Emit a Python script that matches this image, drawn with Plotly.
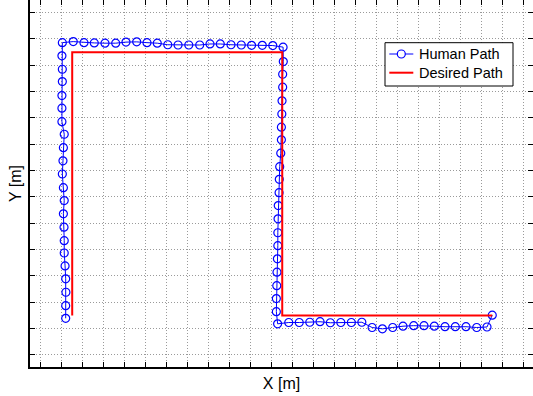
import plotly.graph_objects as go

# Human path (measured), in metres
human_x = [
    1.19, 1.19, 1.20, 1.19, 1.16, 1.12, 1.12, 1.11, 1.08, 1.12, 1.08,
    1.03, 1.06, 1.08, 1.12, 1.01, 1.01, 1.01, 1.03, 1.03, 1.01, 1.03,
    1.55, 2.06, 2.55, 3.06, 3.57, 4.06, 4.57, 5.06, 5.55, 6.05,
    6.54, 7.05, 7.57, 8.06, 8.55, 9.06, 9.55, 10.04, 10.55, 11.05, 11.54,
    11.55, 11.52, 11.52, 11.49, 11.48, 11.46, 11.46, 11.43, 11.38, 11.36,
    11.35, 11.31, 11.30, 11.29, 11.29, 11.27, 11.25, 11.24, 11.22, 11.22, 11.28,
    11.81, 12.31, 12.81, 13.30, 13.79, 14.29, 14.79, 15.29, 15.78, 16.27,
    16.76, 17.25, 17.76, 18.25, 18.74, 19.25, 19.74, 20.25, 20.76, 21.25, 21.50,
]
human_y = [
    1.39, 1.87, 2.38, 2.89, 3.38, 3.87, 4.34, 4.85, 5.36, 5.86, 6.35,
    6.87, 7.37, 7.87, 8.38, 8.86, 9.37, 9.85, 10.38, 10.85, 11.36, 11.86,
    11.90, 11.86, 11.85, 11.84, 11.84, 11.88, 11.89, 11.86, 11.84, 11.78,
    11.77, 11.77, 11.77, 11.81, 11.81, 11.78, 11.77, 11.76, 11.76, 11.75, 11.69,
    11.14, 10.66, 10.17, 9.65, 9.15, 8.65, 8.17, 7.66, 7.15, 6.67,
    6.16, 5.67, 5.17, 4.64, 4.15, 3.65, 3.14, 2.63, 2.14, 1.64, 1.18,
    1.23, 1.23, 1.24, 1.26, 1.22, 1.23, 1.23, 1.24, 1.04, 0.99,
    1.04, 1.09, 1.11, 1.11, 1.09, 1.07, 1.07, 1.07, 1.04, 1.06, 1.51,
]

# Desired path corners
desired_x = [1.5, 1.5, 11.5, 11.5, 21.5]
desired_y = [1.5, 11.5, 11.5, 1.5, 1.5]

series_names = ["Human Path", "Desired Path"]
series_colors = ["#0000ff", "#ff0000"]

x_range = [-0.51, 23.44]
y_range = [-0.46, 13.48]

W, H = 533, 396
ML, MR, MT, MB = 30, 0, 0, 29
PW, PH = W - ML - MR, H - MT - MB


def px(xp):
    return (xp - ML) / PW


def py(yp):
    return 1 - (yp - MT) / PH


fig = go.Figure()
fig.add_trace(go.Scatter(
    x=human_x, y=human_y, mode="lines+markers", name=series_names[0],
    line=dict(color=series_colors[0], width=1),
    marker=dict(symbol="circle-open", size=8, color=series_colors[0], line=dict(width=1.2)),
    showlegend=False,
))
fig.add_trace(go.Scatter(
    x=desired_x, y=desired_y, mode="lines", name=series_names[1],
    line=dict(color=series_colors[1], width=2),
    showlegend=False,
))

axis_common = dict(
    showticklabels=False,
    ticks="inside", ticklen=5, tickwidth=1, tickcolor="#000000",
    dtick=1, tick0=0,
    showgrid=True, gridcolor="#9a9a9a", gridwidth=1, griddash="1px,2px",
    zeroline=False,
    showline=True, linecolor="#000000", linewidth=1.5, mirror="ticks",
    automargin=False,
)

# Legend (MATLAB style box)
box = (385, 42.7, 513, 86)
rows = [54, 72.7]
sample = (389.3, 413.3)
text_x = 416.5
shapes = [dict(type="rect", xref="paper", yref="paper",
               x0=px(box[0]), x1=px(box[2]), y0=py(box[3]), y1=py(box[1]),
               line=dict(color="#000000", width=1), fillcolor="white", layer="above")]
annotations = []
for i, (name, col) in enumerate(zip(series_names, series_colors)):
    shapes.append(dict(type="line", xref="paper", yref="paper",
                       x0=px(sample[0]), x1=px(sample[1]), y0=py(rows[i]), y1=py(rows[i]),
                       line=dict(color=col, width=1 if i == 0 else 2), layer="above"))
    annotations.append(dict(text=name, xref="paper", yref="paper", x=px(text_x), y=py(rows[i]),
                            xanchor="left", yanchor="middle", showarrow=False,
                            font=dict(size=14.5, color="#000000")))
shapes.append(dict(type="circle", xref="paper", yref="paper",
                   xsizemode="pixel", ysizemode="pixel",
                   xanchor=px((sample[0] + sample[1]) / 2), yanchor=py(rows[0]),
                   x0=-4, x1=4, y0=-4, y1=4,
                   line=dict(color=series_colors[0], width=1.2), fillcolor="white", layer="above"))

fig.update_layout(
    width=W, height=H,
    margin=dict(l=ML, r=MR, t=MT, b=MB),
    paper_bgcolor="white", plot_bgcolor="white",
    font=dict(family="Liberation Sans, Arial, sans-serif", size=14, color="#000000"),
    xaxis=dict(range=x_range, title=dict(text="X [m]", standoff=10,
               font=dict(size=16)), **axis_common),
    yaxis=dict(range=y_range, title=dict(text="Y [m]", standoff=3,
               font=dict(size=16)), **axis_common),
    shapes=shapes,
    annotations=annotations,
    showlegend=False,
)

fig.write_html("out.html")
